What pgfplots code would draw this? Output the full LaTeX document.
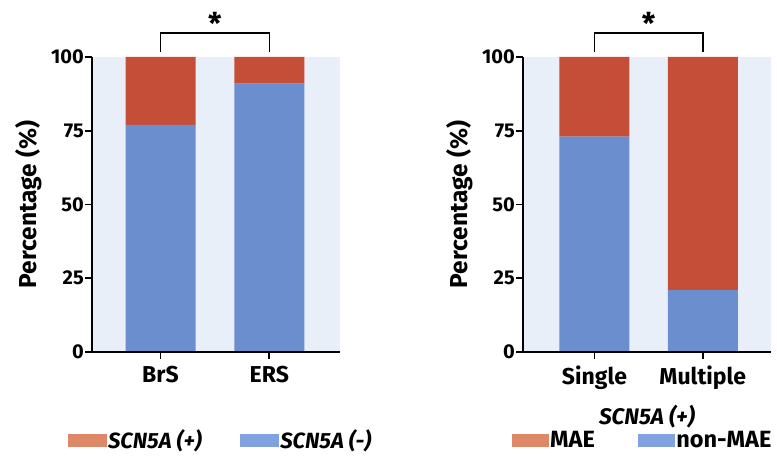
\documentclass[border=0pt]{standalone}
\usepackage{fontspec}
\setmainfont{Fira Sans}
\usepackage{pgfplots}
\pgfplotsset{compat=1.18}
\definecolor{barred}{RGB}{196,78,56}
\definecolor{barblue}{RGB}{106,142,206}
\definecolor{bgblue}{RGB}{233,239,249}
\definecolor{legred}{RGB}{222,136,104}
\definecolor{legblue}{RGB}{128,162,222}
\newcommand{\fs}[1]{\fontsize{#1}{#1}\selectfont}
\pgfplotsset{
  panel/.style={
    scale only axis, width=248pt, height=295pt,
    ymin=0, ymax=100,
    ybar stacked, bar width=70pt,
    axis lines=left,
    axis line style={-, line width=1.6pt, black},
    axis background/.style={fill=bgblue},
    ytick={0,25,50,75,100},
    xtick={0,1},
    tick align=outside,
    major tick length=7pt,
    tick style={draw=black, line width=1.6pt},
    /pgf/number format/assume math mode=true,
    yticklabel style={font=\bfseries\fs{20}, inner sep=1pt},
    xticklabel style={font=\bfseries\fs{23}, inner sep=0pt, yshift=-7pt},
    ylabel={Percentage (\%)},
    ylabel style={font=\bfseries\fs{24.5}, at={(axis description cs:-0.255,0.5)}, anchor=center},
    clip=false,
    axis on top,
    legend columns=2,
    legend style={draw=none, fill=none, inner sep=0pt, anchor=west,
      nodes={inner sep=1.5pt}},
  },
}
\newcommand{\ticks}{%
  \draw[line width=1.6pt] ([xshift=-7pt]rel axis cs:0,0) -- (rel axis cs:0,0);
  \draw[line width=1.6pt] ([xshift=-7pt]rel axis cs:0,0.25) -- (rel axis cs:0,0.25);
  \draw[line width=1.6pt] ([xshift=-7pt]rel axis cs:0,0.5) -- (rel axis cs:0,0.5);
  \draw[line width=1.6pt] ([xshift=-7pt]rel axis cs:0,0.75) -- (rel axis cs:0,0.75);
  \draw[line width=1.6pt] ([xshift=-7pt]rel axis cs:0,1) -- (rel axis cs:0,1);
  \draw[line width=1.6pt] ([yshift=-7pt]axis cs:0,0) -- (axis cs:0,0);
  \draw[line width=1.6pt] ([yshift=-7pt]axis cs:1,0) -- (axis cs:1,0);
}
\begin{document}
\begin{tikzpicture}
\useasboundingbox (0pt,0pt) rectangle (777pt,469pt);
% Left panel
\begin{axis}[panel, at={(92pt,117pt)}, anchor=south west,
  xmin=-0.63, xmax=1.65,
  xticklabels={BrS,ERS},
  legend style={at={(axis description cs:-0.097,-0.298)}, font=\bfseries\itshape\fs{22},
    /tikz/every even column/.style={column sep=37pt}}]
\addplot[fill=barblue, draw=none, forget plot] coordinates {(0,77) (1,91)};
\addplot[fill=barred, draw=none, forget plot] coordinates {(0,23) (1,9)};
\addlegendimage{legend image code/.code={\fill[legred] (0pt,-6pt) rectangle (38pt,6pt);}}
\addlegendentry{SCN5A (+)}
\addlegendimage{legend image code/.code={\fill[legblue] (0pt,-6pt) rectangle (38pt,6pt);}}
\addlegendentry{SCN5A (-)}
\draw[line width=1.5pt] (axis cs:0,101.7) |- (axis cs:1,108.1) -- (axis cs:1,101.7);
\node[font=\bfseries\fs{30}] at (axis cs:0.5,111.5) {*};
\ticks
\end{axis}
% Right panel
\begin{axis}[panel, at={(523pt,117pt)}, anchor=south west,
  xmin=-0.66, xmax=1.63,
  xticklabels={Single,Multiple},
  xlabel={SCN5A (+)},
  xlabel style={font=\bfseries\itshape\fs{22.5}, at={(axis description cs:0.5,-0.247)}, anchor=base},
  legend style={at={(axis description cs:-0.044,-0.298)}, font=\bfseries\fs{23.5},
    /tikz/every even column/.style={column sep=42pt}}]
\addplot[fill=barblue, draw=none, forget plot] coordinates {(0,73) (1,21)};
\addplot[fill=barred, draw=none, forget plot] coordinates {(0,27) (1,79)};
\addlegendimage{legend image code/.code={\fill[legred] (0pt,-6pt) rectangle (36pt,6pt);}}
\addlegendentry{MAE}
\addlegendimage{legend image code/.code={\fill[legblue] (0pt,-6pt) rectangle (36pt,6pt);}}
\addlegendentry{non-MAE}
\draw[line width=1.5pt] (axis cs:0,101.7) |- (axis cs:1,108.1) -- (axis cs:1,101.7);
\node[font=\bfseries\fs{30}] at (axis cs:0.5,111.5) {*};
\ticks
\end{axis}
\end{tikzpicture}
\end{document}
